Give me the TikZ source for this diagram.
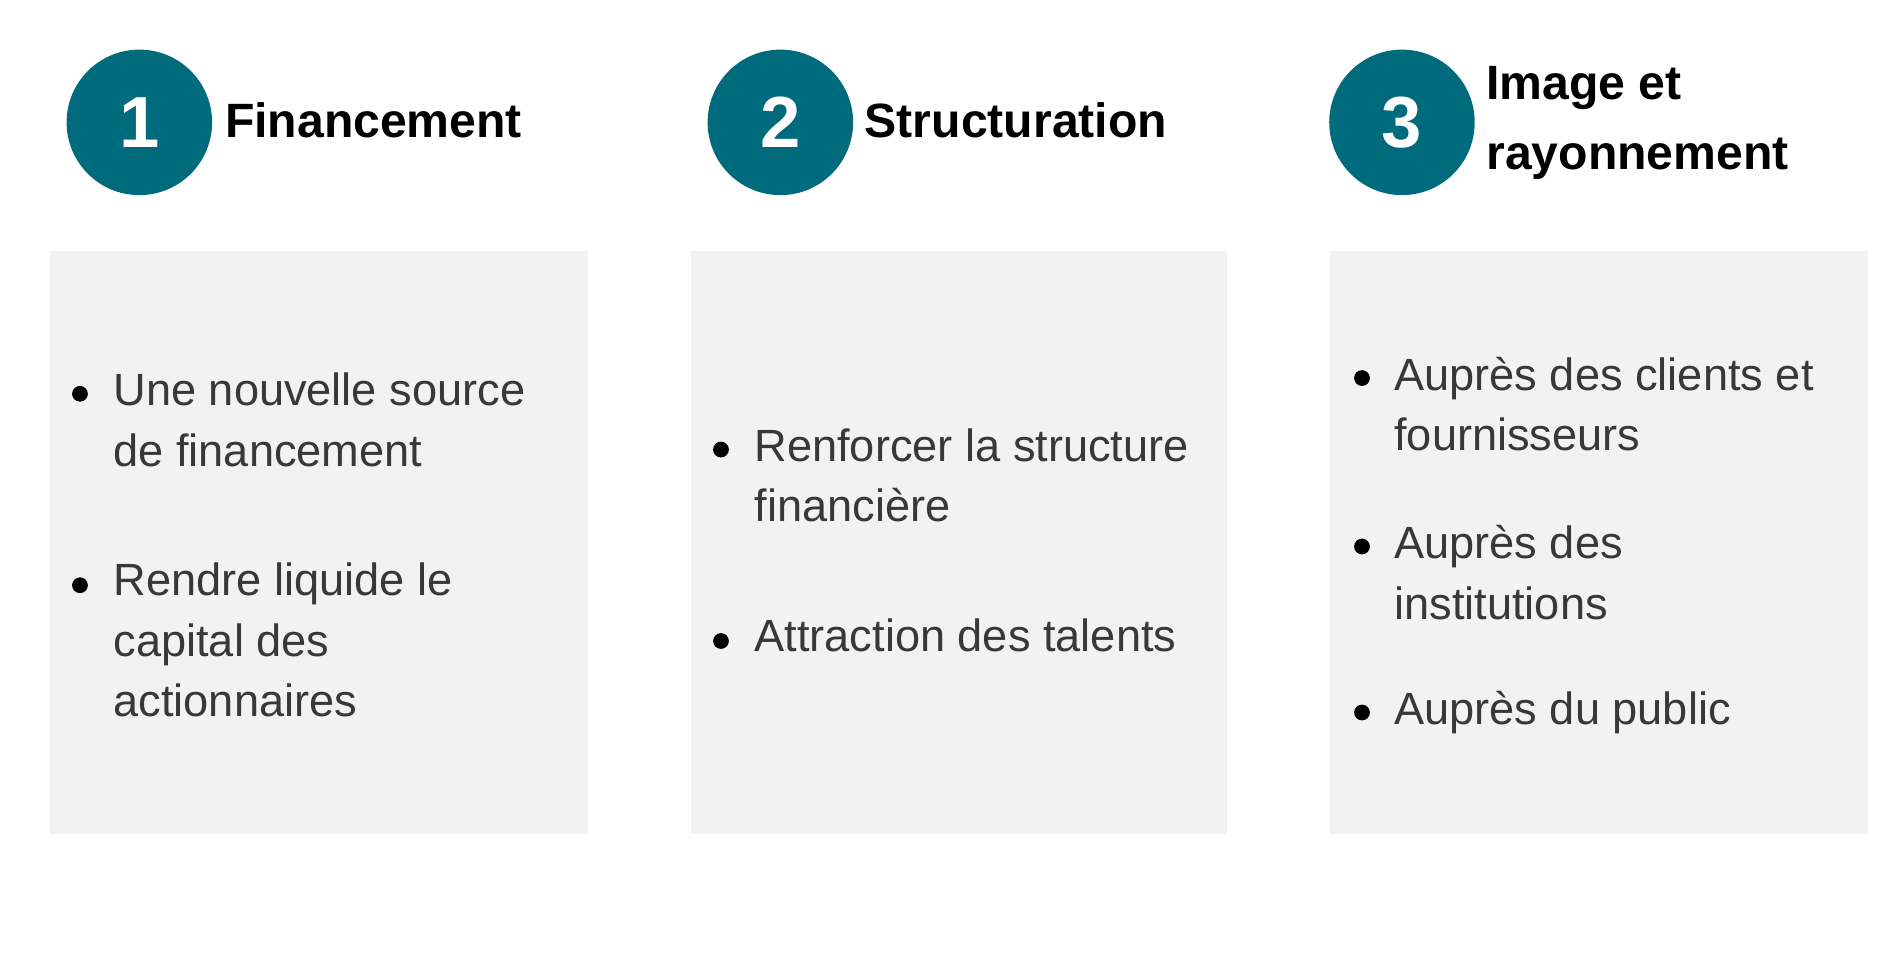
\documentclass[tikz,border=0pt]{standalone}
\usepackage{fontspec}
\setmainfont{Liberation Sans}
\definecolor{teal1}{HTML}{006B7D}
\definecolor{boxgray}{HTML}{F2F2F2}
\begin{document}
\begin{tikzpicture}[x=0.01cm,y=-0.01cm,
  num/.style={circle,fill=teal1,minimum size=1.2cm,inner sep=0,text=white,font=\fontsize{17}{20}\selectfont\bfseries},
  ttl/.style={anchor=north west,inner sep=0,align=left,font=\fontsize{11.3}{16.5}\selectfont\bfseries},
  panel/.style={fill=boxgray,draw=none},
  itm/.style={anchor=north west,inner sep=0,align=left,font=\fontsize{10.6}{14.2}\selectfont,text=black!78},
  dot/.style={circle,fill=black,inner sep=0,minimum size=0.13cm}]
\useasboundingbox (0,0) rectangle (1568,792);
\fill[white] (0,0) rectangle (1568,792);
\fill[panel] (41,207) rectangle (485,688);
\fill[panel] (570,207) rectangle (1013,688);
\fill[panel] (1098,207) rectangle (1542,688);
\node[num] (c1) at (115,101) {1};
\node[num] (c2) at (644,101) {2};
\node[num] (c3) at (1157,101) {3};
\node[ttl] (t1) at (185,84) {Financement};
\node[ttl] (t2) at (713,84) {Structuration};
\node[ttl] (t3) at (1226,54) {Image et\\rayonnement};
\node[dot] (b11) at (66,325) {};
\node[itm] (i11) at (93,307) {Une nouvelle source\\de financement};
\node[dot] (b12) at (66,483) {};
\node[itm] (i12) at (93,464) {Rendre liquide le\\capital des\\actionnaires};
\node[dot] (b21) at (595,371) {};
\node[itm] (i21) at (622,353) {Renforcer la structure\\financière};
\node[dot] (b22) at (595,529) {};
\node[itm] (i22) at (622,510) {Attraction des talents};
\node[dot] (b31) at (1124,312) {};
\node[itm] (i31) at (1150,294) {Auprès des clients et\\fournisseurs};
\node[dot] (b32) at (1124,451) {};
\node[itm] (i32) at (1150,433) {Auprès des\\institutions};
\node[dot] (b33) at (1124,588) {};
\node[itm] (i33) at (1150,570) {Auprès du public};
\end{tikzpicture}
\end{document}
